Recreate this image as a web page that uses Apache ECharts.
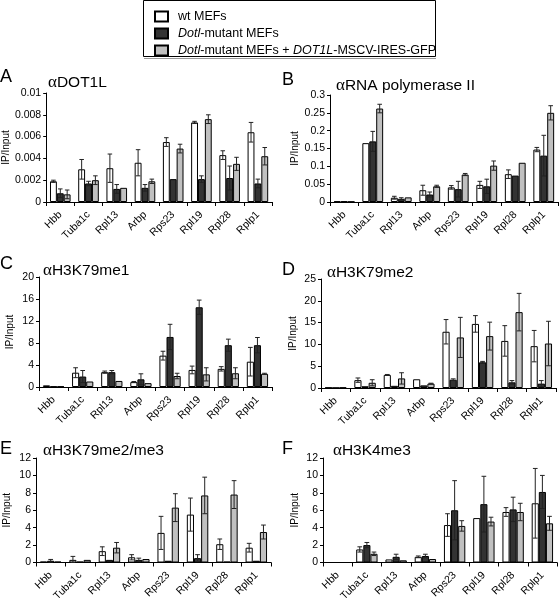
<!DOCTYPE html>
<html><head><meta charset="utf-8">
<script src="https://cdn.jsdelivr.net/npm/echarts@6/dist/echarts.min.js"></script>
<style>html,body{margin:0;padding:0;background:#fff}#c{width:560px;height:604px}</style>
</head><body><div id="c"></div>
<script>
const categories = ['Hbb','Tuba1c','Rpl13','Arbp','Rps23','Rpl19','Rpl28','Rplp1'];
const seriesNames = ['wt MEFs','Dotl-mutant MEFs','Dotl-mutant MEFs + DOT1L-MSCV-IRES-GFP'];

// Panel A: αDOT1L
const aWt = [0.0019,0.0030,0.0031,0.0036,0.0055,0.0073,0.0043,0.0064];
const aWtErr = [0.0001,0.0009,0.0013,0.0012,0.0004,0.0001,0.0004,0.0009];
const aMut = [0.0008,0.0017,0.0012,0.0013,0.0021,0.0021,0.0022,0.0017];
const aMutErr = [0.0004,0.0002,0.0004,0.0003,0,0.0003,0.0011,0.0004];
const aRes = [0.0007,0.0020,0.0013,0.0019,0.0049,0.0076,0.0035,0.0042];
const aResErr = [0.0004,0.0004,0,0.0002,0.0004,0.0004,0.0006,0.0008];
const aTicks = [0,0.002,0.004,0.006,0.008,0.01];

// Panel B: αRNA polymerase II
const bWt = [0.002,0.165,0.012,0.033,0.041,0.048,0.078,0.147];
const bWtErr = [0,0,0.004,0.014,0.005,0.010,0.012,0.006];
const bMut = [0.002,0.170,0.009,0.021,0.036,0.044,0.074,0.130];
const bMutErr = [0,0.028,0.003,0.007,0.022,0.020,0,0.057];
const bRes = [0.001,0.262,0.013,0.044,0.077,0.102,0.110,0.250];
const bResErr = [0,0.012,0,0.003,0.003,0.013,0,0.020];
const bTicks = [0,0.05,0.1,0.15,0.2,0.25,0.3];

// Panel C: αH3K79me1
const cWt = [0.3,2.6,2.7,0.9,5.7,3.1,3.3,4.6];
const cWtErr = [0,0.9,0.2,0.1,0.8,0.7,0.4,2.6];
const cMut = [0.1,1.9,2.7,1.4,9.1,14.5,7.6,7.6];
const cMutErr = [0,1.1,0.3,1.0,2.3,1.3,1.1,1.4];
const cRes = [0.1,1.0,1.1,0.7,2.0,2.3,2.5,2.4];
const cResErr = [0,0,0,0,0.5,1.2,1.0,0.1];
const cTicks = [0,4,8,12,16,20];

// Panel D: αH3K79me2
const dWt = [0.1,1.8,3.0,2.0,12.9,14.7,10.8,9.6];
const dWtErr = [0,0.5,0.1,0,2.8,1.9,3.5,3.6];
const dMut = [0.05,0.4,0.5,0.6,1.9,5.9,1.3,1.0];
const dMutErr = [0,0,0,0,0.2,0.2,0.4,0.7];
const dRes = [0.1,1.2,2.2,1.0,11.6,11.9,17.4,10.2];
const dResErr = [0,0.7,1.3,0.1,4.6,3.2,4.3,5.1];
const dTicks = [0,5,10,15,20,25];

// Panel E: αH3K79me2/me3
const eWt = [0.1,0.3,1.3,0.6,3.4,5.5,2.1,1.7];
const eWtErr = [0,0.4,0.5,0.3,1.9,1.9,0.6,0.5];
const eMut = [0.2,0.1,0.3,0.3,0.2,0.5,0.1,0.2];
const eMutErr = [0.15,0,0,0.2,0,0.4,0,0];
const eRes = [0.1,0.3,1.7,0.4,6.3,7.7,7.8,3.5];
const eResErr = [0,0,0.6,0,1.6,2.1,1.6,0.8];
const eTicks = [0,2,4,6,8,10,12];

// Panel F: αH3K4me3
const fWt = [0,1.5,0.35,0.65,4.3,5.1,5.8,6.8];
const fWtErr = [0,0.3,0,0.1,1.3,0,0.5,4.0];
const fMut = [0,2.0,0.65,0.75,6.0,6.7,6.1,8.1];
const fMutErr = [0,0.3,0.3,0.2,3.4,3.2,1.4,1.9];
const fRes = [0,1.0,0.25,0.4,4.2,4.7,5.8,4.5];
const fResErr = [0,0.2,0,0,0.6,0.5,1.0,0.8];
const fTicks = [0,2,4,6,8,10,12];

const panels = [
  {letter:'A', title:'DOT1L', vals:[aWt,aMut,aRes], errs:[aWtErr,aMutErr,aResErr], ticks:aTicks,
   grid:{left:43,right:288,top:93,bottom:402}, lx:0, ly:68, tx:48, ty:74, ng:29},
  {letter:'B', title:'RNA polymerase II', vals:[bWt,bMut,bRes], errs:[bWtErr,bMutErr,bResErr], ticks:bTicks,
   grid:{left:330,right:2,top:95,bottom:402}, lx:282, ly:71, tx:336, ty:77, ng:23},
  {letter:'C', title:'H3K79me1', vals:[cWt,cMut,cRes], errs:[cWtErr,cMutErr,cResErr], ticks:cTicks,
   grid:{left:39,right:288,top:277,bottom:217}, lx:0, ly:255, tx:43, ty:262, ng:24},
  {letter:'D', title:'H3K79me2', vals:[dWt,dMut,dRes], errs:[dWtErr,dMutErr,dResErr], ticks:dTicks,
   grid:{left:321,right:4,top:279,bottom:216}, lx:282, ly:261, tx:327, ty:264, ng:23},
  {letter:'E', title:'H3K79me2/me3', vals:[eWt,eMut,eRes], errs:[eWtErr,eMutErr,eResErr], ticks:eTicks,
   grid:{left:36,right:289,top:458,bottom:38}, lx:0, ly:440, tx:43, ty:442, ng:24},
  {letter:'F', title:'H3K4me3', vals:[fWt,fMut,fRes], errs:[fWtErr,fMutErr,fResErr], ticks:fTicks,
   grid:{left:323,right:3,top:458,bottom:38}, lx:282, ly:440, tx:333, ty:442, ng:23}
];

const colors = ['#ffffff','#333333','#c0c0c0'];
const GAP = 0.27;
const FONT = 'Arial, "Liberation Sans", sans-serif';

const grids = [], xAxes = [], yAxes = [], series = [], graphics = [];

panels.forEach((p, k) => {
  grids.push(Object.assign({containLabel:false}, p.grid));
  xAxes.push({
    type:'category', gridIndex:k, data:categories,
    axisLine:{show:true, lineStyle:{color:'#000', width:1}},
    axisTick:{show:true, length:4, lineStyle:{color:'#000'}, alignWithLabel:false},
    axisLabel:{rotate:45, interval:0, margin:11, fontSize:10.5, color:'#000', fontFamily:FONT, hideOverlap:false},
    splitLine:{show:false}
  });
  const t = p.ticks;
  yAxes.push({
    type:'value', gridIndex:k, min:t[0], max:t[t.length-1], interval:t[1]-t[0],
    name:'IP/Input', nameLocation:'middle', nameGap:p.ng, nameRotate:90,
    nameTextStyle:{fontSize:10, color:'#000', fontFamily:FONT},
    axisLine:{show:true, lineStyle:{color:'#000', width:1}},
    axisTick:{show:true, length:3, lineStyle:{color:'#000'}},
    axisLabel:{fontSize:10.5, color:'#000', margin:5, fontFamily:FONT},
    splitLine:{show:false}
  });
  p.vals.forEach((v, s) => {
    series.push({
      type:'bar', name:seriesNames[s], xAxisIndex:k, yAxisIndex:k, data:v,
      barGap:'0%', barCategoryGap:(GAP*100)+'%',
      itemStyle:{color:colors[s], borderColor:'#000', borderWidth:1},
      emphasis:{disabled:true}, animation:false
    });
  });
  const errData = [];
  p.vals.forEach((v, s) => v.forEach((val, i) => errData.push([i, val, p.errs[s][i], s])));
  series.push({
    type:'custom', xAxisIndex:k, yAxisIndex:k, data:errData, encode:{x:0, y:1},
    silent:true, animation:false, z:5,
    renderItem:function(params, api){
      const i = api.value(0), v = api.value(1), e = api.value(2), s = api.value(3);
      if (!(e > 0)) return null;
      const band = api.size([1,0])[0];
      const bw = band*(1-GAP)/3;
      const c = api.coord([i, v]);
      const x = c[0] + (s-1)*bw;
      const top = api.coord([i, v+e])[1];
      const bot = api.coord([i, Math.max(0, v-e)])[1];
      const cap = bw*0.33;
      const st = {stroke:'#222', lineWidth:1};
      return {type:'group', children:[
        {type:'line', shape:{x1:x, y1:top, x2:x, y2:bot}, style:st},
        {type:'line', shape:{x1:x-cap, y1:top, x2:x+cap, y2:top}, style:st},
        {type:'line', shape:{x1:x-cap, y1:bot, x2:x+cap, y2:bot}, style:st}
      ]};
    }
  });
  graphics.push({type:'text', left:p.lx, top:p.ly, style:{text:p.letter, fontSize:18, fontFamily:FONT, fill:'#000'}});
  graphics.push({type:'text', left:p.tx, top:p.ty, style:{
    text:'{a|α}{t|'+p.title+'}', fill:'#000',
    rich:{a:{fontFamily:'"Liberation Serif", "Times New Roman", serif', fontSize:17, fill:'#000'},
          t:{fontFamily:FONT, fontSize:15.5, fill:'#000'}}
  }});
});

graphics.push({type:'rect', shape:{x:143.5, y:0.5, width:292, height:56}, style:{fill:'none', stroke:'#000', lineWidth:1}, z:-1});
graphics.push({type:'line', shape:{x1:144, y1:58.5, x2:436, y2:58.5}, style:{stroke:'#999', lineWidth:1}, z:-1});

const option = {
  animation:false,
  backgroundColor:'#fff',
  grid:grids, xAxis:xAxes, yAxis:yAxes, series:series,
  legend:{
    data:seriesNames, orient:'vertical', left:149, top:5, itemGap:4,
    itemWidth:13, itemHeight:10, icon:'rect', selectedMode:false,
    textStyle:{fontSize:12.5, color:'#000', fontFamily:FONT, padding:[0,0,0,5],
      rich:{i:{fontStyle:'italic', fontSize:12.5, fontFamily:FONT, color:'#000'}}},
    formatter:function(n){
      if (n === seriesNames[0]) return n;
      if (n === seriesNames[1]) return '{i|Dotl}-mutant MEFs';
      return '{i|Dotl}-mutant MEFs + {i|DOT1L}-MSCV-IRES-GFP';
    }
  },
  graphic:graphics
};
const chart = echarts.init(document.getElementById('c'), null, {renderer:'canvas'});
chart.setOption(option);
</script></body></html>
